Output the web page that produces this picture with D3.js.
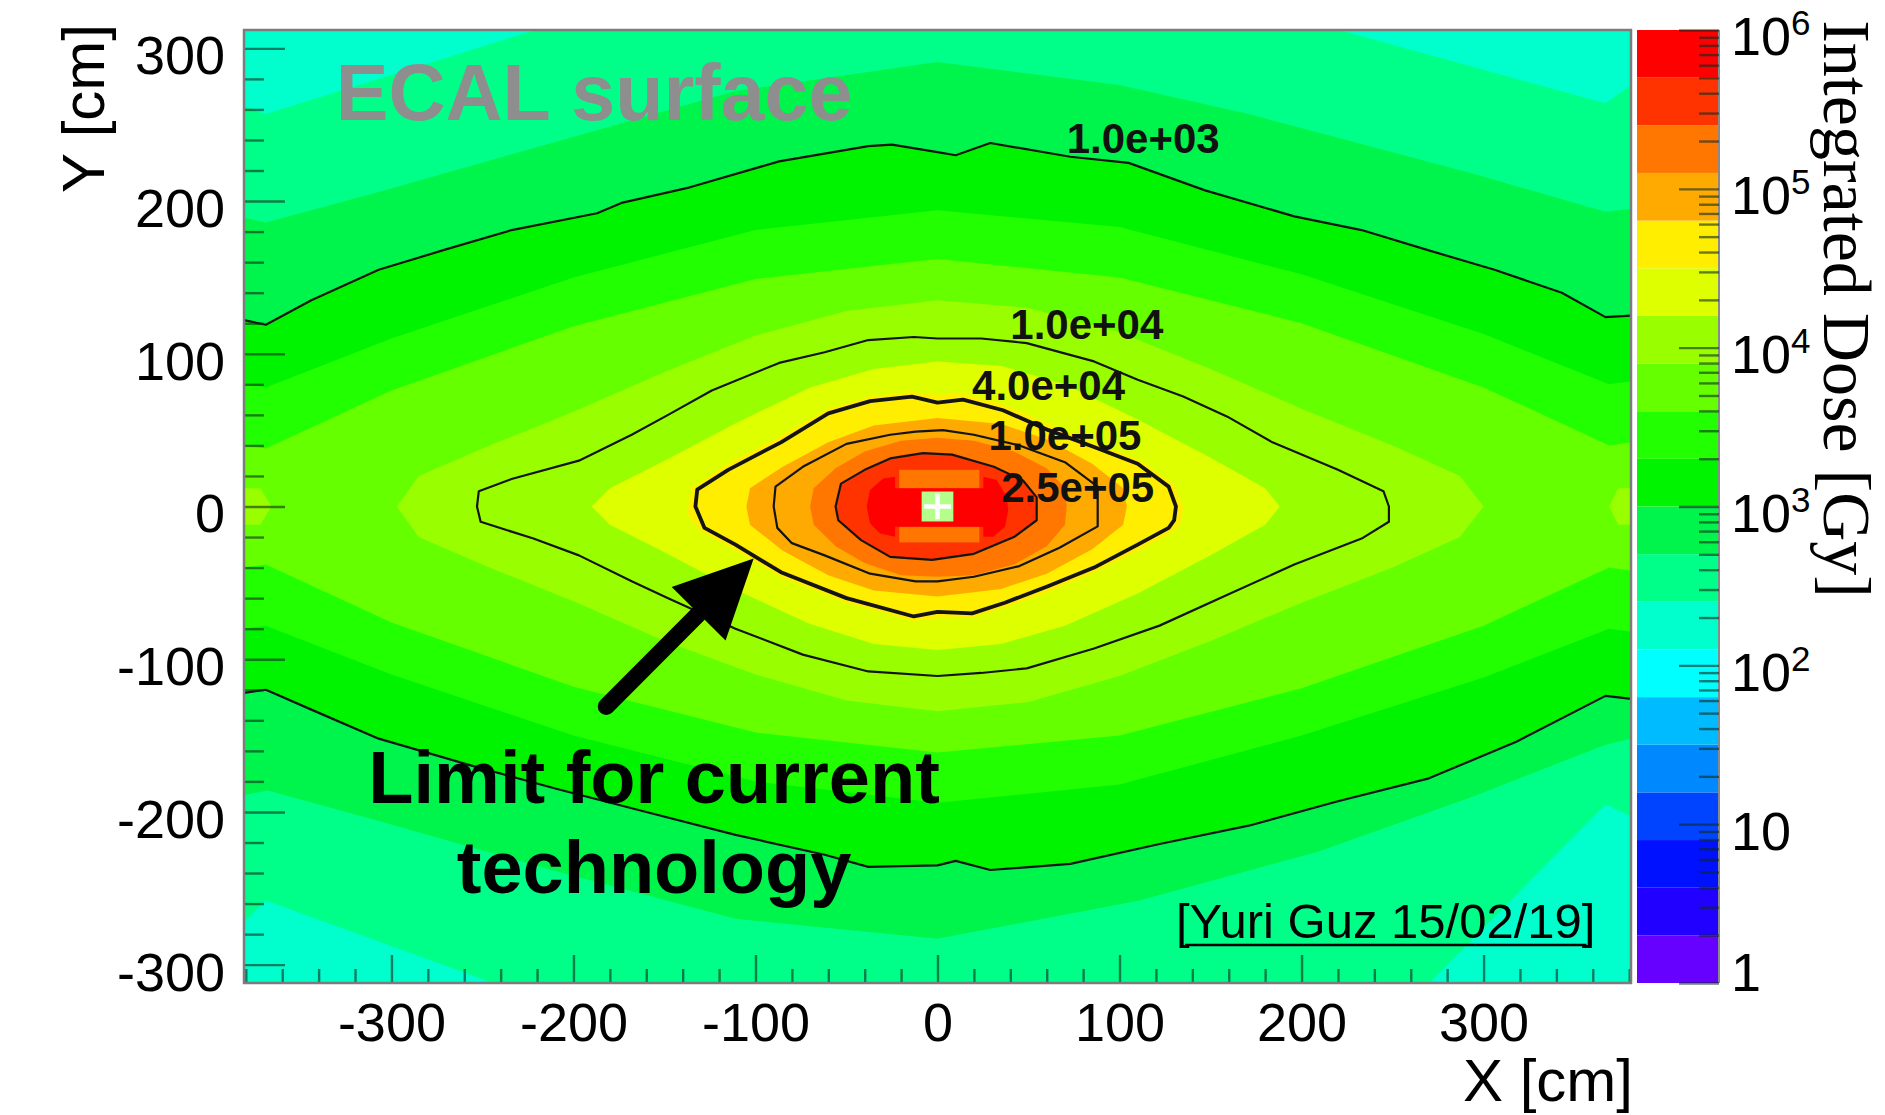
<!DOCTYPE html>
<html>
<head>
<meta charset="utf-8">
<script src="https://cdn.jsdelivr.net/npm/d3@7"></script>
<style>
  html, body { margin: 0; padding: 0; background: #fff; }
  svg { display: block; }
</style>
</head>
<body>
<svg id="chart" width="1885" height="1115"></svg>
<script>
// Integrated dose on the ECAL surface: x, y in cm, dose in Gy.

// 20 log-spaced colour levels between 1 Gy and 1e6 Gy (lowest first)
const paletteColors = [
  "#6600ff", "#2200ff", "#0011ff", "#0044ff", "#0088ff",
  "#00bbff", "#00ffff", "#00ffcc", "#00ff88", "#00f54c",
  "#00f400", "#22ff00", "#66ff00", "#99ff00", "#ddff00",
  "#ffee00", "#ffaa00", "#ff7700", "#ff3300", "#ff0000"
];
const doseRange = [1, 1e6];
const xRange = [-381, 381];
const yRange = [-312, 312];
const cornerDose = 180;                 // dose in the far corners of the calorimeter

const xTicks = [-300, -200, -100, 0, 100, 200, 300];
const yTicks = [-300, -200, -100, 0, 100, 200, 300];
const zTicks = [1, 10, 100, 1000, 10000, 100000, 1000000];

// Iso-dose outlines of the colour bands, [x, y] in cm
const iso251 = [[-194,322],[190,322],[367,264],[392,285],[392,-209],[367,-195],[262,-322],
  [-221,-322],[-369,-258],[-392,-285],[-392,267],[-369,257]];
const iso501 = [[-392,192],[-381,189],[-369,186],[-307,206],[-209,239],[-111,272],[0,291],
  [100,276],[171,257],[294,218],[367,193],[381,195],[392,197],
  [392,-150],[381,-152],[367,-156],[294,-190],[209,-226],[111,-258],[0,-283],
  [-111,-270],[-209,-239],[-307,-206],[-368,-186],[-381,-189],[-392,-192]];
const iso1995 = [[-392,82],[-381,80],[-369,78],[-300,110],[-200,150],[-100,181],[0,194],
  [100,183],[200,152],[300,113],[369,80],[381,82],[392,84],
  [392,-84],[381,-82],[369,-80],[300,-112],[200,-150],[100,-182],[0,-194],
  [-100,-180],[-200,-150],[-300,-110],[-369,-78],[-381,-80],[-392,-82]];
const iso3981 = [[-392,42],[-381,40],[-369,38],[-300,76],[-200,118],[-100,149],[0,162],
  [100,150],[200,120],[300,78],[369,40],[381,42],[392,44],
  [392,-44],[381,-42],[369,-40],[300,-78],[200,-119],[100,-150],[0,-161],
  [-100,-148],[-200,-118],[-300,-76],[-369,-38],[-381,-40],[-392,-42]];
const iso7943 = [[-297,0],[-285,20],[-250,38],[-200,62],[-150,88],[-100,112],[-50,128],[0,135],
  [50,130],[100,114],[150,90],[200,64],[250,40],[287,20],[300,0],[287,-20],[250,-40],
  [200,-63],[150,-88],[100,-111],[50,-128],[0,-134],[-50,-127],[-100,-110],[-150,-88],
  [-200,-62],[-250,-38],[-285,-20]];
const iso7943EdgeLeft = [[-392,12],[-372,12],[-366,0],[-372,-12],[-392,-12]];
const iso7943EdgeRight = [[392,12],[374,12],[369,0],[374,-12],[392,-12]];
const iso15849 = [[-190,0],[-180,12],[-150,30],[-110,55],[-70,78],[-35,90],[0,95],[35,92],
  [70,80],[110,57],[150,32],[180,12],[188,0],[180,-12],[150,-32],[110,-57],[70,-78],
  [35,-90],[0,-94],[-35,-90],[-70,-77],[-110,-55],[-150,-30],[-180,-12]];
const iso31623 = [[-137,0],[-135,12],[-118,26],[-88,45],[-60,64],[-37,72],[-14,75],[0,73],
  [14,74],[36,67],[61,54],[86,42],[112,30],[130,14],[135,0],[134,-10],[130,-16],
  [112,-28],[86,-43],[61,-56],[37,-66],[19,-73],[0,-73],[-13,-75],[-50,-63],[-86,-46],
  [-112,-28],[-130,-16],[-137,-6]];
const iso63096 = [[-105,0],[-103,12],[-85,26],[-60,42],[-35,53],[0,58],[35,54],[60,44],
  [85,28],[102,12],[104,0],[102,-12],[85,-28],[60,-44],[35,-54],[0,-59],[-35,-55],
  [-60,-45],[-85,-29],[-103,-12]];
const iso125893 = [[-70,0],[-68,12],[-56,25],[-40,36],[-20,43],[0,45],[20,43],[42,36],
  [60,25],[70,12],[71,0],[70,-12],[60,-26],[42,-38],[20,-45],[0,-46],[-20,-45],
  [-40,-37],[-56,-26],[-68,-12]];
const iso501187 = [[-38.9,0],[-37.1,10.8],[-29.8,18.4],[-23.3,19.5],[-23.3,11.9],[25.2,11.9],
  [25.2,19.5],[32.5,17.3],[38,6.4],[38.9,-2.3],[37.1,-13.2],[30.7,-19.8],[25.2,-19.8],
  [25.2,-13.2],[-23.3,-13.2],[-23.3,-19.8],[-31.6,-17.6],[-37.1,-11]];

// Histogram bins next to the beam pipe with a lower dose: [x0, x1, y0, y1] in cm, dose in Gy
const centralBins = [
  { cell: [-21, 23, 11.9, 24], dose: 2.1e5 },
  { cell: [-21, 23, -23.5, -13.2], dose: 2.1e5 }
];

// Labelled contour lines
const contourLevels = [1000, 10000, 40000, 100000, 250000];
const contour1e3Upper = [[-392,125],[-381,122],[-369,119],[-344,135],[-307,155],[-271,168],
  [-234,181],[-187,192],[-173,199],[-136,209],[-87,226],[-38,236],[-25,237],[0,232],
  [10,230],[29,238],[73,229],[105,225],[147,207],[196,190],[233,181],[269,168],[306,155],
  [343,140],[367,124],[381,125],[392,126]];
const contour1e3Lower = [[-392,-124],[-381,-122],[-369,-120],[-344,-133],[-307,-152],
  [-258,-169],[-209,-185],[-160,-200],[-111,-215],[-62,-228],[-38,-236],[0,-235],
  [10,-232],[29,-238],[73,-234],[122,-221],[171,-209],[220,-193],[270,-178],[318,-154],
  [367,-124],[381,-126],[392,-127]];
const contour1e4 = [[-253,0],[-252,10],[-234,18],[-197,30],[-168,47],[-148,60],[-124,76],
  [-87,94],[-62,101],[-38,109],[-13,111],[0,110],[24,110],[49,107],[86,95],[110,83],
  [135,72],[159,59],[184,42],[220,24],[245,10],[248,0],[248,-10],[233,-21],[196,-38],
  [159,-58],[122,-78],[86,-93],[49,-106],[24,-109],[0,-111],[-38,-108],[-74,-97],
  [-111,-80],[-148,-60],[-168,-49],[-197,-32],[-222,-21],[-251,-10]];
const contour4e4 = [[-133,0],[-132,11],[-115,24],[-86,42],[-60,61],[-37,69],[-14,72],[0,68],
  [14,70],[36,63],[61,50],[86,39],[110,28],[127,13],[131,0],[130,-9],[127,-14],[110,-25],
  [86,-40],[61,-52],[37,-63],[19,-70],[0,-69],[-13,-72],[-50,-60],[-86,-43],[-111,-25],
  [-128,-14]];
const contour1e5 = [[-90,0],[-89,13],[-74,26],[-50,41],[-26,47],[-12,49],[3,50],[20,47],
  [45,40],[70,29],[88,13],[88,0],[88,-13],[67,-27],[45,-39],[20,-46],[0,-49],[-12,-49],
  [-37,-44],[-62,-32],[-80,-24],[-88,-14]];
const contour2p5e5 = [[-56,0],[-53,15],[-40,24],[-26,31.5],[-8,35],[8,34],[31,26],[47,17],
  [54.5,6],[54.5,-9],[42,-20],[20,-31],[-3,-35],[-26,-33],[-42,-22],[-54.5,-9]];
const contourLabelPos = [[71,231.5],[40,110],[19,70],[28,37],[35,3]];

// Beam-pipe hole half-size (cm)
const holeHalf = [8.7, 9.8];

// Annotations, positions in cm
const titlePos = [-330.6, 253.1];
const notePos = [-155.7, -194.2, -253.1];
const arrowTail = [-182, -131];
const arrowTip = [-101, -34];
const creditPos = [131, -282.6];

// ---------------------------------------------------------------
const frame = { left: 244, right: 1631, top: 30, bottom: 983 };
const bar = { left: 1637, right: 1719 };
const sans = "'Liberation Sans', Arial, Helvetica, sans-serif";
const serif = "'Liberation Serif', 'Times New Roman', serif";

const svg = d3.select("#chart");
const x = d3.scaleLinear().domain(xRange).range([frame.left, frame.right]);
const y = d3.scaleLinear().domain(yRange).range([frame.bottom, frame.top]);
const z = d3.scaleLog().domain(doseRange).range([frame.bottom, frame.top]);

const nLevels = paletteColors.length;
const decades = Math.log10(doseRange[1] / doseRange[0]);
const levelIndex = v => Math.log10(v / doseRange[0]) / decades * nLevels;
const clampIdx = i => Math.max(0, Math.min(nLevels - 1, i));
const bandColor = v => paletteColors[clampIdx(Math.floor(levelIndex(v)))];
const aboveColor = v => paletteColors[clampIdx(Math.round(levelIndex(v)))];
const zEdges = d3.range(nLevels + 1).map(k => doseRange[0] * Math.pow(10, decades * k / nLevels));

svg.append("defs").append("clipPath").attr("id", "plotClip")
  .append("rect")
  .attr("x", frame.left).attr("y", frame.top)
  .attr("width", frame.right - frame.left).attr("height", frame.bottom - frame.top);

const ring = d3.line().x(d => x(d[0])).y(d => y(d[1])).curve(d3.curveLinearClosed);
const path = d3.line().x(d => x(d[0])).y(d => y(d[1]));

// ---- filled dose bands ----
const plot = svg.append("g").attr("clip-path", "url(#plotClip)");
plot.append("rect")
  .attr("x", frame.left).attr("y", frame.top)
  .attr("width", frame.right - frame.left).attr("height", frame.bottom - frame.top)
  .attr("fill", bandColor(cornerDose));

const iso1000 = contour1e3Upper.concat(contour1e3Lower.slice().reverse());
const filledLevels = [
  [251, [iso251]], [501, [iso501]], [1000, [iso1000]], [1995, [iso1995]],
  [3981, [iso3981]], [7943, [iso7943, iso7943EdgeLeft, iso7943EdgeRight]],
  [15849, [iso15849]], [31623, [iso31623]], [63096, [iso63096]],
  [125893, [iso125893]], [251189, [contour2p5e5]]
];
filledLevels.forEach(([level, rings]) => {
  rings.forEach(r => {
    plot.append("path").attr("d", ring(r)).attr("fill", aboveColor(level));
  });
});
centralBins.forEach(b => {
  plot.append("rect")
    .attr("x", x(b.cell[0])).attr("y", y(b.cell[3]))
    .attr("width", x(b.cell[1]) - x(b.cell[0]))
    .attr("height", y(b.cell[2]) - y(b.cell[3]))
    .attr("fill", bandColor(b.dose));
});
plot.append("path").attr("d", ring(iso501187)).attr("fill", aboveColor(501187));

// beam-pipe hole
plot.append("rect")
  .attr("x", x(-holeHalf[0])).attr("y", y(holeHalf[1]))
  .attr("width", x(holeHalf[0]) - x(-holeHalf[0]))
  .attr("height", y(-holeHalf[1]) - y(holeHalf[1]))
  .attr("fill", "#b4ff8c");
plot.append("path")
  .attr("d", `M${x(-holeHalf[0] * 0.85)},${y(0)}H${x(holeHalf[0] * 0.85)}M${x(0)},${y(holeHalf[1] * 0.85)}V${y(-holeHalf[1] * 0.85)}`)
  .attr("stroke", "#ffffff").attr("stroke-width", 4.5);

// ---- contour lines ----
const lines = plot.append("g").attr("fill", "none").attr("stroke", "#141414")
  .attr("stroke-linejoin", "round");
lines.append("path").attr("d", path(contour1e3Upper)).attr("stroke-width", 2.2);
lines.append("path").attr("d", path(contour1e3Lower)).attr("stroke-width", 2.2);
lines.append("path").attr("d", ring(contour1e4)).attr("stroke-width", 2.2);
lines.append("path").attr("d", ring(contour4e4)).attr("stroke-width", 3.8);
lines.append("path").attr("d", ring(contour1e5)).attr("stroke-width", 2.2);
lines.append("path").attr("d", ring(contour2p5e5)).attr("stroke-width", 2.2);

const fmtLevel = v => {
  const [m, e] = v.toExponential(1).split("e");
  return `${m}e${e[0]}${e.slice(1).padStart(2, "0")}`;
};
plot.append("g").selectAll("text").data(contourLevels).join("text")
  .attr("x", (d, i) => x(contourLabelPos[i][0]))
  .attr("y", (d, i) => y(contourLabelPos[i][1]))
  .attr("font-family", sans).attr("font-size", 42).attr("font-weight", "bold")
  .attr("fill", "#111")
  .text(fmtLevel);

// ---- axes (ticks drawn inside the frame) ----
const tickStyle = g => {
  g.select(".domain").remove();
  g.attr("font-family", sans).attr("font-size", 54);
  g.selectAll(".tick line").attr("stroke", "#0d2a1e").attr("stroke-opacity", 0.6).attr("stroke-width", 2.4);
  g.selectAll(".tick text").attr("fill", "#000");
};
const yMinor = d3.range(-300, 313, 20).filter(v => v % 100 !== 0);
const xMinor = d3.range(-380, 381, 20).filter(v => v % 100 !== 0);

svg.append("g").attr("transform", `translate(${frame.left},0)`)
  .call(d3.axisLeft(y).tickValues(yMinor).tickSize(-20).tickFormat(""))
  .call(tickStyle);
const gy = svg.append("g").attr("transform", `translate(${frame.left},0)`)
  .call(d3.axisLeft(y).tickValues(yTicks).tickSize(-41).tickPadding(19).tickFormat(d => String(d)))
  .call(tickStyle);
gy.selectAll(".tick text").attr("dy", "0.47em");

svg.append("g").attr("transform", `translate(0,${frame.bottom})`)
  .call(d3.axisBottom(x).tickValues(xMinor).tickSize(-14).tickFormat(""))
  .call(tickStyle);
svg.append("g").attr("transform", `translate(0,${frame.bottom})`)
  .call(d3.axisBottom(x).tickValues(xTicks).tickSize(-28).tickPadding(20).tickFormat(d => String(d)))
  .call(tickStyle);

// frame
svg.append("rect")
  .attr("x", frame.left).attr("y", frame.top)
  .attr("width", frame.right - frame.left).attr("height", frame.bottom - frame.top)
  .attr("fill", "none").attr("stroke", "#7c7c7c").attr("stroke-width", 2.5);

// axis titles
svg.append("text")
  .attr("x", frame.right + 2).attr("y", 1101)
  .attr("text-anchor", "end")
  .attr("font-family", sans).attr("font-size", 60).attr("fill", "#000")
  .text("X [cm]");
svg.append("text")
  .attr("transform", `translate(104,${frame.top - 6}) rotate(-90)`)
  .attr("text-anchor", "end")
  .attr("font-family", sans).attr("font-size", 60).attr("fill", "#000")
  .text("Y [cm]");

// ---- colour scale ----
const gBar = svg.append("g");
gBar.selectAll("rect").data(d3.range(nLevels)).join("rect")
  .attr("x", bar.left).attr("width", bar.right - bar.left)
  .attr("y", i => z(zEdges[i + 1]))
  .attr("height", i => z(zEdges[i]) - z(zEdges[i + 1]))
  .attr("fill", i => paletteColors[i]);
gBar.append("line")
  .attr("x1", bar.right).attr("x2", bar.right).attr("y1", frame.top).attr("y2", frame.bottom)
  .attr("stroke", "#8a8a8a").attr("stroke-width", 2);

const zMinor = [];
zTicks.slice(0, -1).forEach(t => { for (let m = 2; m <= 9; m++) zMinor.push(t * m); });
svg.append("g").attr("transform", `translate(${bar.right},0)`)
  .call(d3.axisRight(z).tickValues(zMinor).tickSize(-20).tickFormat(""))
  .call(tickStyle);
const gz = svg.append("g").attr("transform", `translate(${bar.right},0)`)
  .call(d3.axisRight(z).tickValues(zTicks).tickSize(-40).tickPadding(12).tickFormat(d => String(d)))
  .call(tickStyle);
gz.selectAll(".tick text").each(function (d) {
  const t = d3.select(this);
  const exp = Math.round(Math.log10(d));
  t.attr("dy", d === doseRange[0] ? "0.13em" : "0.46em");
  if (exp <= 1) { t.text(String(d)); return; }
  t.text(null);
  t.append("tspan").text("10");
  t.append("tspan").attr("dy", -20).attr("font-size", 35).text(exp);
});

svg.append("text")
  .attr("transform", "translate(1824,598) rotate(90)")
  .attr("text-anchor", "end")
  .attr("font-family", serif).attr("font-size", 68).attr("fill", "#000")
  .text("Integrated Dose [Gy]");

// ---- annotations ----
svg.append("text")
  .attr("x", x(titlePos[0])).attr("y", y(titlePos[1]))
  .attr("font-family", sans).attr("font-size", 79).attr("font-weight", "bold")
  .attr("fill", "#8e8e8e")
  .text("ECAL surface");

const note = svg.append("text")
  .attr("text-anchor", "middle")
  .attr("font-family", sans).attr("font-size", 74).attr("font-weight", "bold")
  .attr("fill", "#000");
note.append("tspan").attr("x", x(notePos[0])).attr("y", y(notePos[1])).text("Limit for current");
note.append("tspan").attr("x", x(notePos[0])).attr("y", y(notePos[2])).text("technology");

// arrow pointing at the 4e4 contour
{
  const tx = x(arrowTail[0]), ty = y(arrowTail[1]);
  const hx = x(arrowTip[0]), hy = y(arrowTip[1]);
  const len = Math.hypot(hx - tx, hy - ty);
  const ux = (hx - tx) / len, uy = (hy - ty) / len;
  const headLen = 78, headHalf = 38;
  const bx = hx - ux * headLen, by = hy - uy * headLen;
  svg.append("line")
    .attr("x1", tx).attr("y1", ty).attr("x2", bx + ux * 6).attr("y2", by + uy * 6)
    .attr("stroke", "#000").attr("stroke-width", 17).attr("stroke-linecap", "round");
  svg.append("path")
    .attr("d", `M${hx},${hy}L${bx - uy * headHalf},${by + ux * headHalf}L${bx + uy * headHalf},${by - ux * headHalf}Z`)
    .attr("fill", "#000");
}

const credit = svg.append("text")
  .attr("x", x(creditPos[0])).attr("y", y(creditPos[1]))
  .attr("font-family", sans).attr("font-size", 49).attr("fill", "#000")
  .text("[Yuri Guz 15/02/19]");
{
  const bb = credit.node().getBBox();
  svg.append("line")
    .attr("x1", bb.x + 9).attr("x2", bb.x + bb.width - 9)
    .attr("y1", y(creditPos[1]) + 7).attr("y2", y(creditPos[1]) + 7)
    .attr("stroke", "#000").attr("stroke-width", 2.5);
}
</script>
</body>
</html>
